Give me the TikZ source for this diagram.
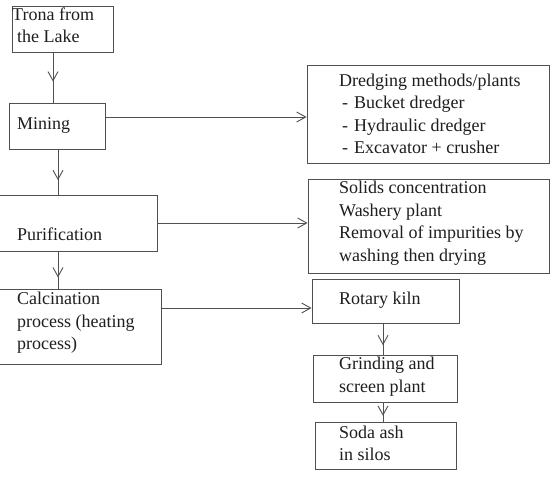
\documentclass[tikz,border=0pt]{standalone}
\usepackage{fontspec}
\setmainfont{Liberation Serif}
\usetikzlibrary{arrows.meta,decorations.markings}
\definecolor{linec}{RGB}{80,80,80}
\definecolor{textc}{RGB}{30,30,30}
\begin{document}
\begin{tikzpicture}[x=1pt,y=-1pt,
  box/.style={draw=linec, line width=0.9pt, rectangle, inner sep=0pt},
  txt/.style={anchor=west, inner sep=0pt, align=left, text=textc,
    font=\fontsize{18}{22.5}\selectfont},
  tipv/.tip={Straight Barb[length=9pt,width=10pt,line width=0.9pt]},
  conn/.style={draw=linec, line width=0.9pt},
  arr/.style={conn, -tipv},
  midarrow/.style={conn, postaction={decorate},
    decoration={markings, mark=at position #1 with {\arrow{tipv}}}}]
\useasboundingbox (0,0) rectangle (552,477);
\fill[white] (0,0) rectangle (552,477);
% boxes
\node[box, minimum width=101pt, minimum height=46pt] (trona) at (62.5,29) {};
\node[box, minimum width=96pt, minimum height=46pt] (mining) at (57,126) {};
\node[box, minimum width=158pt, minimum height=56pt] (purif) at (78,223) {};
\node[box, minimum width=162pt, minimum height=75pt] (calc) at (80,326.5) {};
\node[box, minimum width=242pt, minimum height=98pt] (dredge) at (428,114) {};
\node[box, minimum width=241pt, minimum height=94pt] (solids) at (428.5,226) {};
\node[box, minimum width=147pt, minimum height=44pt] (rotary) at (385.5,301) {};
\node[box, minimum width=144pt, minimum height=47pt] (grind) at (385,378.5) {};
\node[box, minimum width=141pt, minimum height=47pt] (soda) at (385.5,445.5) {};
% texts
\node[txt] (ttrona) at (12,25) {Trona from\\\hspace{5pt}the Lake};
\node[txt] (tmining) at (17,125) {Mining};
\node[txt] (tpurif) at (17,234) {Purification};
\node[txt] (tcalc) at (17,323) {Calcination\\process (heating\\process)};
\node[txt] (tdredge) at (339,114) {Dredging methods/plants\\
  \makebox[15pt][l]{\,-}Bucket dredger\\
  \makebox[15pt][l]{\,-}Hydraulic dredger\\
  \makebox[15pt][l]{\,-}Excavator + crusher};
\node[txt] (tsolids) at (339,223) {Solids concentration\\Washery plant\\Removal of impurities by\\washing then drying};
\node[txt] (trotary) at (339,300) {Rotary kiln};
\node[txt] (tgrind) at (339,376.5) {Grinding and\\screen plant};
\node[txt] (tsoda) at (339,443.5) {Soda ash\\in silos};
% guide coordinates
\coordinate (xa) at (53,0);
\coordinate (xb) at (58,0);
\coordinate (xc) at (383,0);
\coordinate (ya) at (0,117);
\coordinate (yb) at (0,223);
\coordinate (yc) at (0,308);
% connectors
\draw[midarrow=0.58] (trona.south -| xa) -- (mining.north -| xa);
\draw[midarrow=0.68] (mining.south -| xb) -- (purif.north -| xb);
\draw[midarrow=0.7] (purif.south -| xb) -- (calc.north -| xb);
\draw[midarrow=0.7] (rotary.south -| xc) -- (grind.north -| xc);
\draw[midarrow=0.7] (grind.south -| xc) -- (soda.north -| xc);
\draw[arr] (mining.east |- ya) -- (dredge.west |- ya);
\draw[arr] (purif.east |- yb) -- (solids.west |- yb);
\draw[arr] (calc.east |- yc) -- (rotary.west |- yc);
\end{tikzpicture}
\end{document}
